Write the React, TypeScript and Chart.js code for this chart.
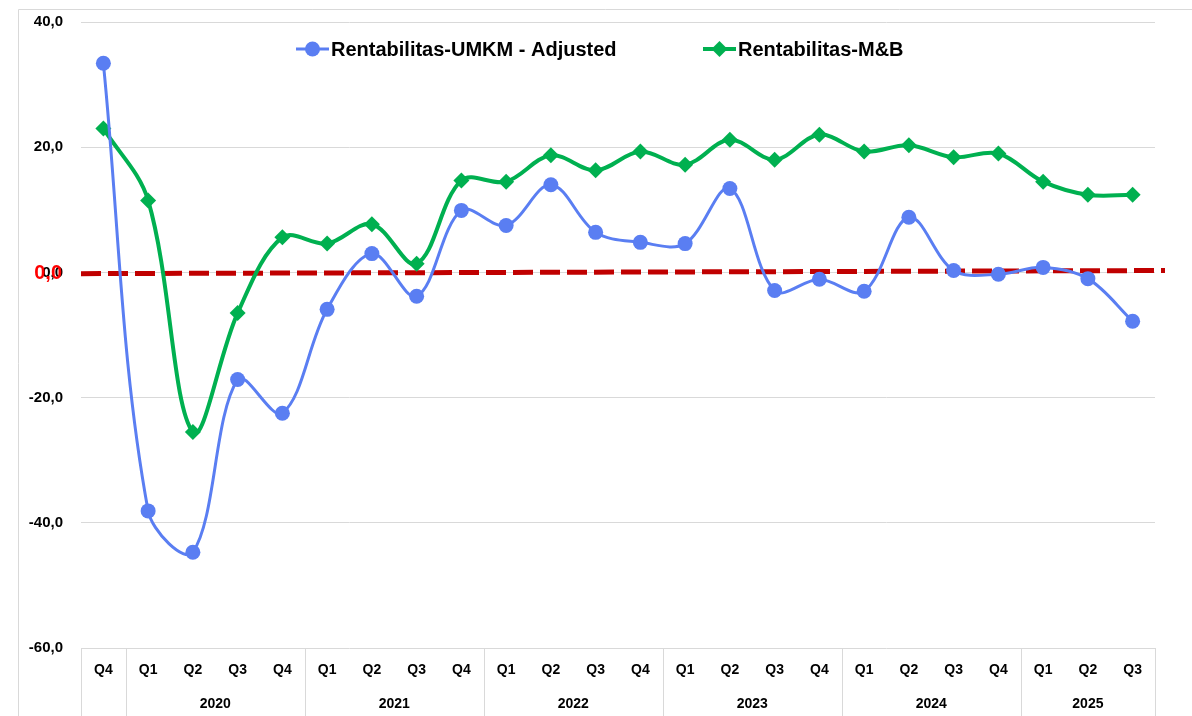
import React, { useEffect, useRef } from "react";
import { Chart, registerables } from "chart.js";

Chart.register(...registerables);

const quarters = ["Q4", "Q1", "Q2", "Q3", "Q4", "Q1", "Q2", "Q3", "Q4", "Q1", "Q2", "Q3", "Q4", "Q1", "Q2", "Q3", "Q4", "Q1", "Q2", "Q3", "Q4", "Q1", "Q2", "Q3"];
const years = ["", "2020", "2020", "2020", "2020", "2021", "2021", "2021", "2021", "2022", "2022", "2022", "2022", "2023", "2023", "2023", "2023", "2024", "2024", "2024", "2024", "2025", "2025", "2025"];
const umkmAdjusted = [33.4, -38.1, -44.7, -17.1, -22.5, -5.9, 3.0, -3.8, 9.9, 7.5, 14.0, 6.4, 4.8, 4.6, 13.4, -2.9, -1.1, -3.0, 8.8, 0.3, -0.3, 0.8, -1.0, -7.8];
const mb = [23.0, 11.5, -25.5, -6.5, 5.6, 4.6, 7.7, 1.4, 14.7, 14.5, 18.7, 16.3, 19.3, 17.2, 21.2, 18.0, 22.0, 19.3, 20.3, 18.4, 19.0, 14.5, 12.4, 12.4];
const zeroLineStart = -0.2;
const zeroLineEnd = 0.3;
const yTicks = [-60, -40, -20, 0, 20, 40];

const BLUE = "#5A7EF2";
const GREEN = "#00B050";
const RED = "#C00000";
const FONT = "'Liberation Sans', Arial, sans-serif";

const fmt = (v: number) => v.toFixed(1).replace(".", ",");

const overlayPlugin = {
  id: "overlay",
  beforeDatasetsDraw(chart: any) {
    const ctx = chart.ctx;
    const x = chart.scales.x;
    const y = chart.scales.y;
    const area = chart.chartArea;
    ctx.save();
    // outer border
    ctx.strokeStyle = "#d9d9d9";
    ctx.lineWidth = 1;
    ctx.beginPath();
    ctx.moveTo(18.5, 720);
    ctx.lineTo(18.5, 9.5);
    ctx.lineTo(1200, 9.5);
    ctx.stroke();
    // category separators
    const n = quarters.length;
    const bounds: number[] = [area.left];
    for (let i = 1; i < n; i++) {
      if (years[i] !== years[i - 1]) {
        bounds.push((x.getPixelForValue(i - 1) + x.getPixelForValue(i)) / 2);
      }
    }
    bounds.push(area.right);
    ctx.strokeStyle = "#d9d9d9";
    for (const b of bounds) {
      const bx = Math.round(b) + 0.5;
      ctx.beginPath();
      ctx.moveTo(bx, area.bottom);
      ctx.lineTo(bx, chart.height);
      ctx.stroke();
    }
    // year labels
    ctx.fillStyle = "#000";
    ctx.font = `bold 14px ${FONT}`;
    ctx.textAlign = "center";
    ctx.textBaseline = "middle";
    let start = 0;
    for (let i = 1; i <= n; i++) {
      if (i === n || years[i] !== years[start]) {
        if (years[start]) {
          const cx = (x.getPixelForValue(start) + x.getPixelForValue(i - 1)) / 2;
          ctx.fillText(years[start], cx, 704);
        }
        start = i;
      }
    }
    // red dashed zero line
    ctx.strokeStyle = RED;
    ctx.lineWidth = 5;
    ctx.setLineDash([20, 7]);
    ctx.beginPath();
    ctx.moveTo(area.left, y.getPixelForValue(zeroLineStart));
    ctx.lineTo(area.right + 10, y.getPixelForValue(zeroLineEnd));
    ctx.stroke();
    ctx.setLineDash([]);
    ctx.restore();
  },
  afterDraw(chart: any) {
    const ctx = chart.ctx;
    const y = chart.scales.y;
    ctx.save();
    // red 0,0 label
    ctx.fillStyle = "#FF0000";
    ctx.font = `bold 20px ${FONT}`;
    ctx.textAlign = "right";
    ctx.textBaseline = "middle";
    ctx.fillText(fmt(0), 62, y.getPixelForValue(0) + 1);
    // legend
    const items = [
      { label: chart.data.datasets[0].label, color: BLUE, style: "circle", x: 296 },
      { label: chart.data.datasets[1].label, color: GREEN, style: "diamond", x: 703 },
    ];
    const ly = 49;
    ctx.font = `bold 20px ${FONT}`;
    ctx.textAlign = "left";
    for (const it of items) {
      ctx.strokeStyle = it.color;
      ctx.fillStyle = it.color;
      ctx.lineWidth = it.style === "circle" ? 3 : 4;
      ctx.beginPath();
      ctx.moveTo(it.x, ly);
      ctx.lineTo(it.x + 33, ly);
      ctx.stroke();
      const mx = it.x + 16.5;
      ctx.beginPath();
      if (it.style === "circle") {
        ctx.arc(mx, ly, 7.5, 0, Math.PI * 2);
      } else {
        ctx.moveTo(mx, ly - 8);
        ctx.lineTo(mx + 8, ly);
        ctx.lineTo(mx, ly + 8);
        ctx.lineTo(mx - 8, ly);
        ctx.closePath();
      }
      ctx.fill();
      ctx.fillStyle = "#000";
      ctx.fillText(it.label, it.x + 35, ly + 1);
    }
    ctx.restore();
  },
};

export default function App() {
  const ref = useRef<HTMLCanvasElement | null>(null);
  useEffect(() => {
    document.body.style.margin = "0";
    const chart = new Chart(ref.current as HTMLCanvasElement, {
      type: "line",
      data: {
        labels: quarters,
        datasets: [
          {
            label: "Rentabilitas-UMKM - Adjusted",
            data: umkmAdjusted,
            borderColor: BLUE,
            backgroundColor: BLUE,
            borderWidth: 3,
            pointRadius: 7.5,
            pointStyle: "circle",
            pointBorderWidth: 0,
            tension: 0.35,
          },
          {
            label: "Rentabilitas-M&B",
            data: mb,
            borderColor: GREEN,
            backgroundColor: GREEN,
            borderWidth: 4,
            pointRadius: 8,
            pointStyle: "rectRot",
            pointBorderWidth: 0,
            tension: 0.35,
          },
        ],
      },
      options: {
        animation: false,
        responsive: true,
        maintainAspectRatio: false,
        layout: { padding: { left: 0, top: 0, right: 37, bottom: 0 } },
        plugins: {
          legend: { display: false },
          tooltip: { enabled: false },
        },
        scales: {
          x: {
            offset: true,
            grid: { display: false, drawTicks: false },
            border: { display: false },
            ticks: {
              color: "#000",
              font: { family: FONT, size: 14, weight: "bold" },
              padding: 14,
              maxRotation: 0,
              autoSkip: false,
            },
            afterFit(scale: any) {
              scale.height = 68;
            },
          },
          y: {
            min: -60,
            max: 40,
            afterBuildTicks(scale: any) {
              scale.ticks = yTicks.map((v) => ({ value: v }));
            },
            grid: { color: "#d9d9d9", lineWidth: 1, drawTicks: false },
            border: { display: false },
            ticks: {
              color: "#000",
              font: { family: FONT, size: 15, weight: "bold" },
              padding: 18,
              callback: (v: any) => fmt(Number(v)),
            },
            afterFit(scale: any) {
              scale.width = 81;
              scale.paddingTop = 22;
            },
          },
        },
      },
      plugins: [overlayPlugin],
    } as any);
    return () => chart.destroy();
  }, []);
  return (
    <div style={{ position: "fixed", left: 0, top: 0, width: 1192, height: 716, background: "#fff" }}>
      <canvas ref={ref} />
    </div>
  );
}
